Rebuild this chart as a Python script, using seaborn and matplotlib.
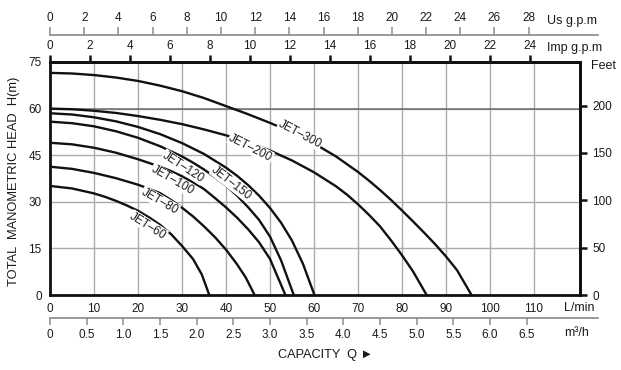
import numpy as np
import pandas as pd
import matplotlib.pyplot as plt
import seaborn as sns

# pump curves: capacity Q (L/min) and head H (m)
jet60_q = [0, 5, 10, 12.5, 15, 17.5, 20, 22.5, 25, 27.5, 30, 32.5, 34.5, 36.2]
jet60_h = [35.1, 34.3, 32.7, 31.6, 30.3, 28.8, 27.1, 25.0, 22.6, 19.6, 15.8, 11.6, 6.6, 0]

jet80_q = [0, 5, 10, 15, 20, 22.5, 25, 27.5, 30, 32.5, 35, 37.5, 40, 42.5, 44.5, 46.5]
jet80_h = [41.3, 40.6, 39.3, 37.6, 35.5, 34.2, 32.8, 30.6, 28.1, 25.3, 22.1, 18.6, 14.6, 9.9, 5.6, 0]

jet100_q = [0, 5, 10, 15, 20, 25, 27.5, 30, 32.5, 35, 37.5, 40, 42.5, 45, 47.5, 50, 53.5]
jet100_h = [49.0, 48.5, 47.4, 45.8, 43.7, 41.3, 39.9, 38.2, 36.3, 34.1, 31.2, 28.2, 24.9, 21.2, 17.0, 11.6, 0]

jet120_q = [0, 5, 10, 15, 20, 25, 30, 32.5, 35, 37.5, 40, 42.5, 45, 47.5, 50, 52.5, 55.4]
jet120_h = [55.8, 55.3, 54.3, 52.7, 50.6, 47.9, 44.6, 42.6, 40.4, 37.9, 35.2, 32.0, 28.3, 24.2, 18.8, 11.2, 0]

jet150_q = [0, 5, 10, 15, 20, 25, 30, 35, 40, 42.5, 45, 47.5, 50, 52.5, 55, 57.5, 60.1]
jet150_h = [58.5, 58.1, 57.2, 55.9, 54.1, 51.8, 48.9, 45.4, 41.0, 38.4, 35.4, 32.0, 28.0, 23.3, 17.5, 10.0, 0]

jet200_q = [0, 5, 10, 15, 20, 25, 30, 35, 40, 45, 50, 55, 60, 65, 67.5, 70, 72.5, 75, 77.5, 80, 82.5, 85.6]
jet200_h = [60.0, 59.8, 59.3, 58.6, 57.6, 56.4, 55.0, 53.3, 51.4, 49.2, 46.5, 43.3, 39.5, 35.0, 32.3, 29.2, 25.8, 22.1, 17.6, 12.8, 7.6, 0]

jet300_q = [0, 5, 10, 15, 20, 25, 30, 35, 40, 45, 50, 55, 60, 65, 70, 72.5, 75, 77.5, 80, 82.5, 85, 87.5, 90, 92.5, 95.8]
jet300_h = [71.5, 71.3, 70.8, 70.0, 68.9, 67.4, 65.6, 63.4, 60.8, 58.2, 55.4, 52.4, 48.8, 44.6, 39.6, 36.8, 33.8, 30.6, 27.2, 23.7, 20.1, 16.4, 12.4, 8.0, 0]

models = ["JET-60", "JET-80", "JET-100", "JET-120", "JET-150", "JET-200", "JET-300"]
curves_q = [jet60_q, jet80_q, jet100_q, jet120_q, jet150_q, jet200_q, jet300_q]
curves_h = [jet60_h, jet80_h, jet100_h, jet120_h, jet150_h, jet200_h, jet300_h]

lmin_ticks = list(range(0, 111, 10))
head_ticks = [0, 15, 30, 45, 60, 75]
feet_ticks = [0, 50, 100, 150, 200]
usgpm_ticks = list(range(0, 29, 2))
impgpm_ticks = list(range(0, 25, 2))
m3h_ticks = [0, 0.5, 1.0, 1.5, 2.0, 2.5, 3.0, 3.5, 4.0, 4.5, 5.0, 5.5, 6.0, 6.5]

rows = []
for name, qs, hs in zip(models, curves_q, curves_h):
    for q, h in zip(qs, hs):
        rows.append({"model": name, "Q": q, "H": h})
df = pd.DataFrame(rows)

sns.set_theme(style="ticks")
plt.rcParams['font.family'] = ['Liberation Sans', 'DejaVu Sans']
txt = "#1a1a1a"
ink = "#111111"
grey = "#8c8c8c"

W, H = 621, 370
fig = plt.figure(figsize=(6.21, 3.70), dpi=100)

def px(x, y):
    return x / W, 1 - y / H

# main chart
ax = fig.add_axes([50 / W, 75 / H, 530 / W, 233 / H])
sns.lineplot(data=df, x="Q", y="H", units="model", estimator=None, sort=False,
             color=ink, lw=1.7, ax=ax, legend=False)
ax.set_xlim(0, 530 / 4.4)
ax.set_ylim(0, 75)
ax.set_xticks(lmin_ticks)
ax.set_yticks(head_ticks)
ax.grid(True, color="#ababab", lw=1.0)
ax.axhline(60, color="#6e6e6e", lw=1.1, zorder=1)
ax.set_xlabel("")
ax.set_ylabel("")
ax.tick_params(axis="x", length=0, pad=6, labelsize=8.5, labelcolor=txt)
ax.tick_params(axis="y", length=0, pad=6, labelsize=8.5, labelcolor=txt)
for s in ax.spines.values():
    s.set_color(ink)
    s.set_linewidth(2)

# curve labels (x, y, angle)
label_pos = {"JET-300": (56.8, 51.8, -28), "JET-200": (45.6, 47.4, -27),
             "JET-150": (41.3, 36.0, -38), "JET-120": (30.3, 41.2, -33),
             "JET-100": (27.8, 37.0, -30), "JET-80": (25.0, 30.2, -30),
             "JET-60": (22.3, 22.3, -32)}
for name, (x, y, r) in label_pos.items():
    ax.text(x, y, name.replace("-", "\u2013"), rotation=r, rotation_mode="anchor",
            ha="center", va="center", fontsize=8.5, color=txt, zorder=5,
            bbox=dict(boxstyle="square,pad=0.05", fc="white", ec="none"))

# feet on the right
axr = ax.twinx()
axr.set_ylim(0, 75 * 3.2808)
axr.set_yticks(feet_ticks)
axr.tick_params(axis="y", direction="out", length=5, width=1.8, pad=4,
                labelsize=8.5, labelcolor=txt, color=ink)
axr.grid(False)
for s in axr.spines.values():
    s.set_visible(False)
axr.spines["right"].set_visible(True)
axr.spines["right"].set_color(ink)
axr.spines["right"].set_linewidth(2)

# imperial gpm on the top edge
axi = ax.twiny()
axi.set_xlim(0, (530 / 4.4) / 4.546)
axi.set_xticks(impgpm_ticks)
axi.grid(False)
axi.tick_params(axis="x", direction="out", length=5, width=1.8, pad=2,
                top=True, bottom=False, labeltop=True, labelbottom=False,
                labelsize=8.5, labelcolor=txt, color=ink)
for s in axi.spines.values():
    s.set_visible(False)
axi.spines["top"].set_visible(True)
axi.spines["top"].set_color(ink)
axi.spines["top"].set_linewidth(2)

# US gpm scale above
axus = fig.add_axes([50 / W, 1 - 35 / H, 548 / W, 1e-4])
axus.set_xlim(0, 548 / 4.4 / 3.885)
axus.set_xticks(usgpm_ticks)
axus.set_yticks([])
axus.tick_params(axis="x", direction="out", length=6, width=1.1, pad=2,
                 top=True, bottom=False, labeltop=True, labelbottom=False,
                 labelsize=8.5, labelcolor=txt, color=grey)
for s in axus.spines.values():
    s.set_visible(False)
axus.spines["top"].set_visible(True)
axus.spines["top"].set_color(grey)
axus.patch.set_alpha(0)

# m3/h scale below
axm = fig.add_axes([50 / W, 1 - 318 / H, 548 / W, 1e-4])
axm.set_xlim(0, 548 / 4.4 / 16.667)
axm.set_xticks(m3h_ticks)
axm.set_xticklabels(["0"] + [f"{v:.1f}" for v in m3h_ticks[1:]])
axm.set_yticks([])
axm.tick_params(axis="x", direction="out", length=5, width=1.1, pad=3,
                top=False, bottom=True, labelsize=8.5, labelcolor=txt, color=grey)
for s in axm.spines.values():
    s.set_visible(False)
axm.spines["bottom"].set_visible(True)
axm.spines["bottom"].set_color(grey)
axm.patch.set_alpha(0)

# unit labels
fs = 9
fig.text(*px(572, 21), "Us g.p.m", ha="center", va="center", fontsize=fs, color=txt)
fig.text(*px(575, 48), "Imp g.p.m", ha="center", va="center", fontsize=fs, color=txt)
fig.text(*px(591, 66), "Feet", ha="left", va="center", fontsize=fs, color=txt)
fig.text(*px(579, 308), "L/min", ha="center", va="center", fontsize=fs, color=txt)
fig.text(*px(577, 333), "m\u00b3/h", ha="center", va="center", fontsize=fs, color=txt)
fig.text(*px(326, 355), "CAPACITY  Q \u25ba", ha="center", va="center", fontsize=9.2, color=txt)
fig.text(*px(14, 181), "TOTAL  MANOMETRIC HEAD  H(m)", rotation=90, ha="center",
         va="center", fontsize=9.3, color=txt)

fig.savefig("out.png", dpi=100)
